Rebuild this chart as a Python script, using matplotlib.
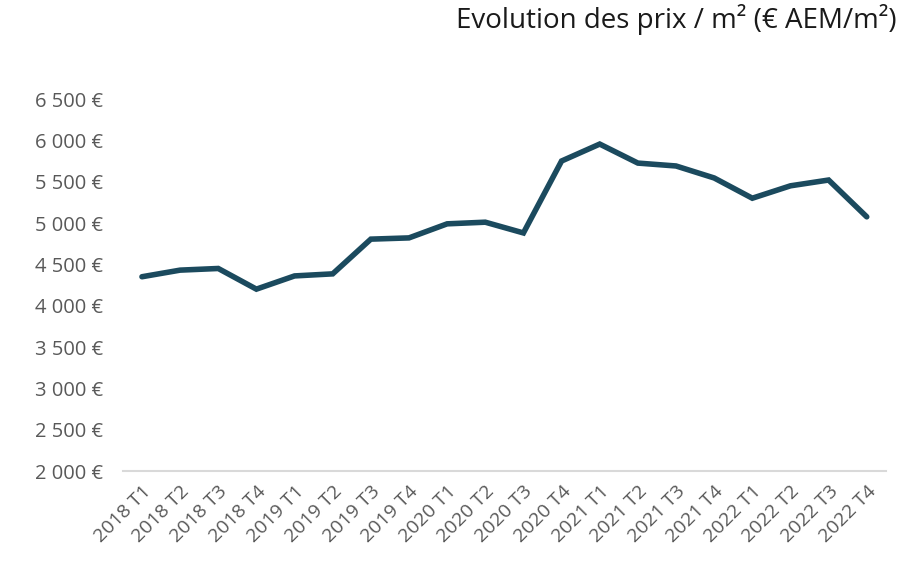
import matplotlib
matplotlib.use('Agg')
import matplotlib.pyplot as plt
from matplotlib.ticker import FuncFormatter, MultipleLocator

plt.rcParams['font.family'] = ['Open Sans', 'DejaVu Sans']

trimestres = ['2018 T1', '2018 T2', '2018 T3', '2018 T4',
              '2019 T1', '2019 T2', '2019 T3', '2019 T4',
              '2020 T1', '2020 T2', '2020 T3', '2020 T4',
              '2021 T1', '2021 T2', '2021 T3', '2021 T4',
              '2022 T1', '2022 T2', '2022 T3', '2022 T4']
prix_m2 = [4350, 4430, 4450, 4200,
           4360, 4385, 4805, 4820,
           4990, 5010, 4880, 5750,
           5955, 5725, 5690, 5545,
           5300, 5450, 5520, 5075]

fig = plt.figure(figsize=(9.17, 5.61), dpi=100)
ax = fig.add_axes([0.134, 0.1604, 0.832, 0.6631])

ax.plot(range(len(trimestres)), prix_m2, color='#1b4a5e', linewidth=4,
        solid_joinstyle='miter', solid_capstyle='round')

ax.set_xlim(-0.5, len(trimestres) - 0.5)
ax.set_ylim(2000, 6500)
ax.yaxis.set_major_locator(MultipleLocator(500))
ax.yaxis.set_major_formatter(FuncFormatter(lambda v, p: f'{int(v):,} €'.replace(',', ' ')))

ax.set_xticks(range(len(trimestres)))
ax.set_xticklabels(trimestres, rotation=45, ha='right', rotation_mode='anchor', fontsize=14)

for s in ['top', 'right', 'left']:
    ax.spines[s].set_visible(False)
ax.spines['bottom'].set_color('#d9d9d9')
ax.spines['bottom'].set_linewidth(1.5)

ax.tick_params(axis='both', length=0, colors='#595959')
ax.tick_params(axis='y', pad=14, labelsize=14.5)
ax.tick_params(axis='x', pad=8)

fig.text(0.978, 0.965, 'Evolution des prix / m² (€ AEM/m²)', ha='right', va='center',
         fontsize=20, color='#1a1a1a')

fig.savefig('out.png', dpi=100)
